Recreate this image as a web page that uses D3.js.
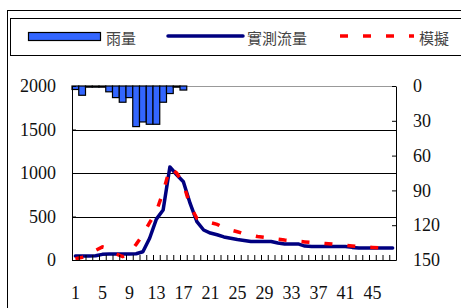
<html>
<head>
<meta charset="utf-8">
<script src="https://d3js.org/d3.v7.min.js"></script>
<style>
    body{ margin:0; background-color:#ffffff; }
    .axis path{ fill:none; stroke:#000; stroke-width:1; }
    .axis line{ stroke:#000; stroke-width:1; }
    .legend text{ font-family:"Noto Sans CJK TC", sans-serif; font-size:15px; fill:#444; }
</style>
</head>
<body>
<script>
// categories (time steps)
var steps = d3.range(1, 49);
var stepLabels = [1, 5, 9, 13, 17, 21, 25, 29, 33, 37, 41, 45];

// rainfall (right axis, hanging from top)
var rain = [0, 3, 8, 1, 1, 0, 1, 5, 10, 14, 10, 35, 31, 33, 33, 14, 6.5, 1, 0, 0,
            0, 0, 0, 3.5, 0, 0, 0, 0, 0, 0, 0, 0, 0, 0, 0, 0, 0, 0, 0, 0,
            0, 0, 0, 0, 0, 0, 0, 0];

// observed flow
var observed = [45, 45, 45, 48, 65, 68, 68, 68, 70, 72, 95, 250, 470, 575, 1070, 980, 900, 650, 440, 345,
                310, 290, 265, 250, 235, 225, 212, 212, 212, 212, 195, 185, 185, 185, 160, 155, 155, 155, 155, 155,
                155, 145, 138, 138, 138, 138, 138, 138];

// simulated flow
var simulated = [15, 30, 60, 110, 150, 130, 70, 40, 80, 180, 290, 430, 560, 780, 1060, 1000, 880, 620, 480, 440,
                 430, 410, 370, 345, 325, 300, 285, 270, 260, 250, 240, 230, 222, 215, 208, 202, 196, 190, 185, 178,
                 170, 162, 155, 150, 145, 140, 135, 132];

var leftTicks = [0, 500, 1000, 1500, 2000];
var rightTicks = [0, 30, 60, 90, 120, 150];

var width = 461, height = 308;
var plot = { left: 72, right: 396, top: 86, bottom: 260 };
var tickFont = "'Liberation Serif', 'Times New Roman', 'DejaVu Serif', serif";

var svg = d3.select("body").append("svg")
    .attr("width", width)
    .attr("height", height);

// outer frame + legend frame
svg.append("rect").attr("x", 7.5).attr("y", 10.5).attr("width", 470).attr("height", 320)
    .attr("fill", "none").attr("stroke", "#000");
svg.append("rect").attr("x", 10.5).attr("y", 18.5).attr("width", 470).attr("height", 37)
    .attr("fill", "none").attr("stroke", "#000");

// scales
var x = d3.scaleBand().domain(steps).range([plot.left, plot.right]).padding(0);
var xEdge = d3.scaleLinear().domain([0, steps.length]).range([plot.left, plot.right]);
var yFlow = d3.scaleLinear().domain([0, 2000]).range([plot.bottom, plot.top]);
var yRain = d3.scaleLinear().domain([0, 150]).range([plot.top, plot.bottom]);

// top border (gray) and gridlines
svg.append("line").attr("x1", plot.left).attr("x2", plot.right)
    .attr("y1", plot.top + 0.5).attr("y2", plot.top + 0.5)
    .attr("stroke", "#999");
svg.append("g").selectAll("line")
    .data([500, 1000, 1500])
    .enter().append("line")
    .attr("x1", plot.left).attr("x2", plot.right)
    .attr("y1", function(d){ return Math.round(yFlow(d)) + 0.5; })
    .attr("y2", function(d){ return Math.round(yFlow(d)) + 0.5; })
    .attr("stroke", "#000");

// rainfall bars
svg.append("g").selectAll("rect")
    .data(rain)
    .enter().append("rect")
    .filter(function(d){ return d > 0; })
    .attr("x", function(d, i){ return x(steps[i]); })
    .attr("y", yRain(0))
    .attr("width", x.bandwidth())
    .attr("height", function(d){ return yRain(d) - yRain(0); })
    .attr("fill", "#3366ff")
    .attr("stroke", "#000")
    .attr("stroke-width", 1.2);

// lines
var flowLine = function(vals){
    return d3.line()
        .x(function(d, i){ return x(steps[i]) + x.bandwidth() / 2; })
        .y(function(d){ return yFlow(d); })(vals);
};

svg.append("path")
    .attr("d", flowLine(observed))
    .attr("fill", "none")
    .attr("stroke", "#000080")
    .attr("stroke-width", 3.5)
    .attr("stroke-linejoin", "round")
    .attr("stroke-linecap", "round");

svg.append("path")
    .attr("d", flowLine(simulated))
    .attr("fill", "none")
    .attr("stroke", "#ff0000")
    .attr("stroke-width", 3.5)
    .attr("stroke-dasharray", "8,15");

// axes
function styleAxis(g){
    g.attr("font-family", tickFont).attr("font-size", 18);
    g.selectAll("text").attr("fill", "#111");
}

svg.append("g").attr("class", "axis")
    .attr("transform", "translate(" + plot.left + ",0)")
    .call(d3.axisLeft(yFlow).tickValues(leftTicks).tickFormat(d3.format("d"))
        .tickSize(-4).tickPadding(16).tickSizeOuter(0))
    .call(styleAxis);

svg.append("g").attr("class", "axis")
    .attr("transform", "translate(" + plot.right + ",0)")
    .call(d3.axisRight(yRain).tickValues(rightTicks).tickFormat(d3.format("d"))
        .tickSize(-4).tickPadding(17).tickSizeOuter(0))
    .call(styleAxis);

svg.append("g").attr("class", "axis")
    .attr("transform", "translate(0," + plot.bottom + ")")
    .call(d3.axisBottom(xEdge).tickValues(d3.range(0, steps.length + 1))
        .tickSize(-5).tickSizeOuter(0).tickFormat(""));

svg.append("g").attr("class", "axis")
    .attr("transform", "translate(0," + plot.bottom + ")")
    .call(d3.axisBottom(x).tickValues(stepLabels).tickSize(0).tickPadding(26))
    .call(styleAxis)
    .select(".domain").remove();

// legend
var legend = svg.append("g").attr("class", "legend");
legend.append("rect").attr("x", 28.5).attr("y", 32.5).attr("width", 72).attr("height", 8)
    .attr("fill", "#3366ff").attr("stroke", "#000").attr("stroke-width", 1.2);
legend.append("text").attr("x", 106).attr("y", 43.5).text("雨量");

legend.append("line").attr("x1", 168).attr("x2", 243).attr("y1", 36).attr("y2", 36)
    .attr("stroke", "#000080").attr("stroke-width", 3.5).attr("stroke-linecap", "round");
legend.append("text").attr("x", 247).attr("y", 43.5).text("實測流量");

legend.append("line").attr("x1", 340).attr("x2", 414).attr("y1", 36).attr("y2", 36)
    .attr("stroke", "#ff0000").attr("stroke-width", 3.5).attr("stroke-dasharray", "8,15");
legend.append("text").attr("x", 419).attr("y", 43.5).text("模擬");
</script>
</body>
</html>
